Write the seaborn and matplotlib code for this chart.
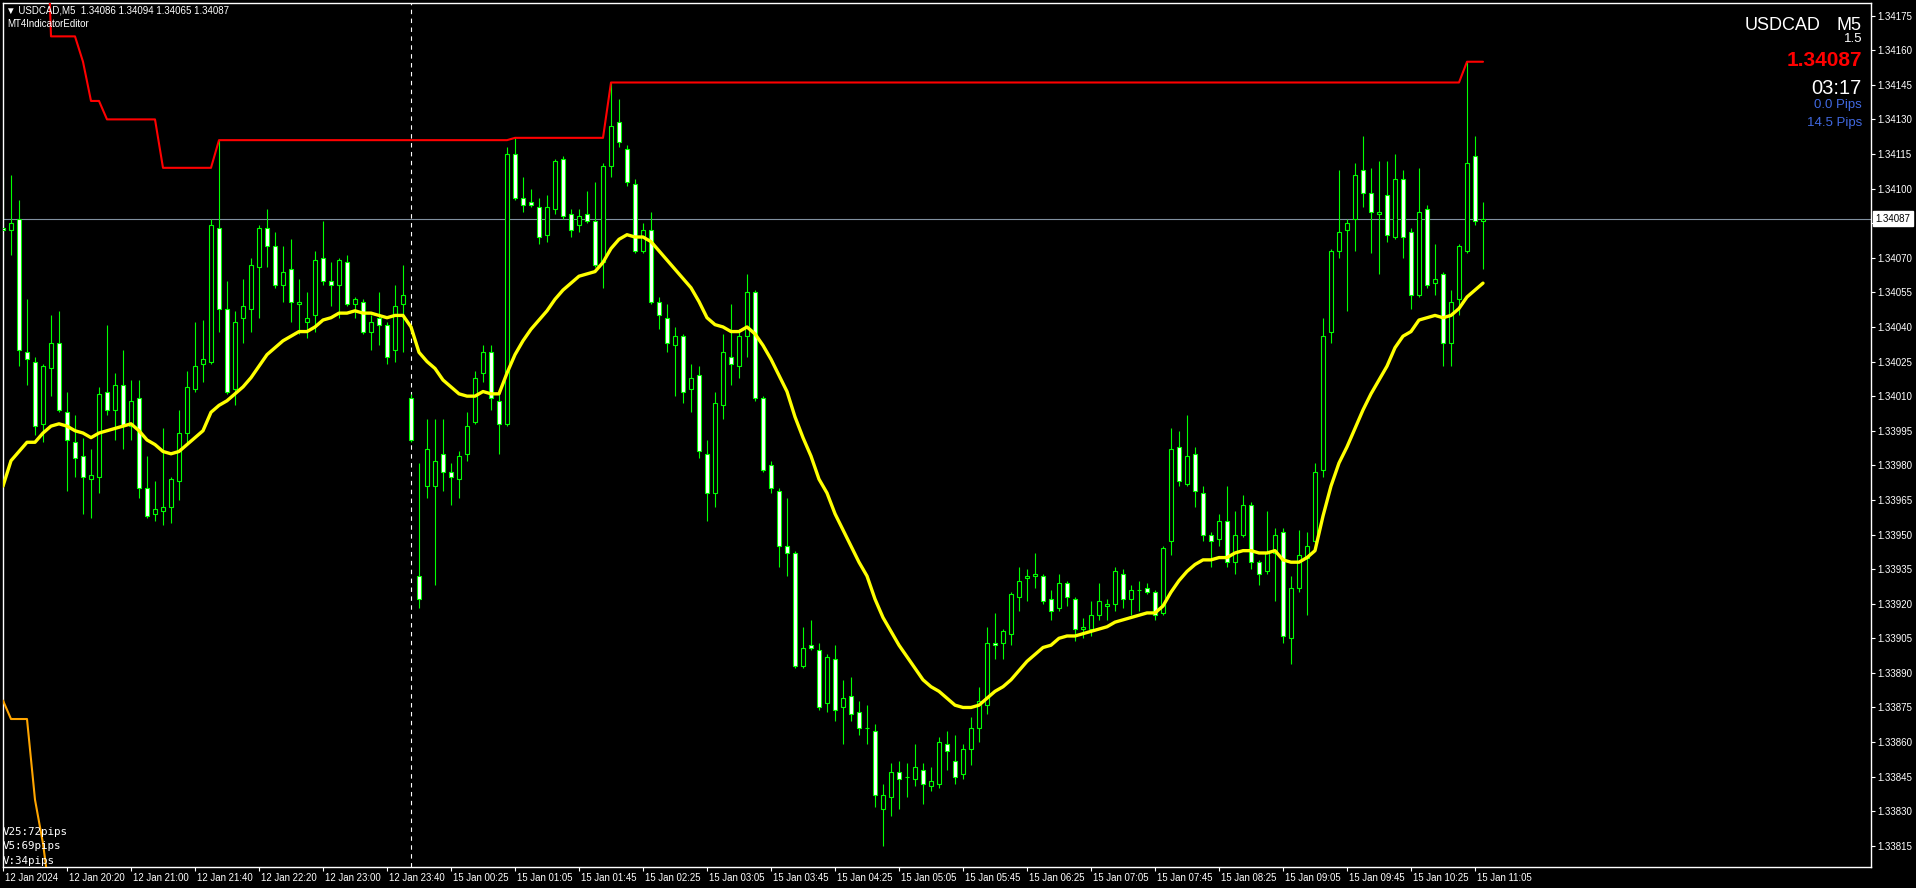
import numpy as np
import pandas as pd
import matplotlib
matplotlib.use("Agg")
import matplotlib.pyplot as plt
import matplotlib.transforms as mtransforms
import seaborn as sns

# USDCAD M5, bar 0 = 12 Jan 19:40, last bar = 15 Jan 11:05
opens = [1.34083, 1.34082, 1.34087, 1.34029, 1.34025, 1.33998, 1.34022, 1.34033, 1.34003, 1.33990,
         1.33984, 1.33974, 1.33975, 1.34012, 1.34004, 1.34015, 1.33997, 1.34009, 1.33970, 1.33959,
         1.33960, 1.33962, 1.33973, 1.33994, 1.34013, 1.34024, 1.34025, 1.34083, 1.34048, 1.34013,
         1.34044, 1.34048, 1.34066, 1.34083, 1.34075, 1.34058, 1.34065, 1.34050, 1.34042, 1.34045,
         1.34070, 1.34060, 1.34058, 1.34068, 1.34050, 1.34051, 1.34038, 1.34044, 1.34041, 1.34030,
         1.34050, 1.34009, 1.33932, 1.33971, 1.33971, 1.33985, 1.33977, 1.33974, 1.33985, 1.33999,
         1.34020, 1.34029, 1.34008, 1.33998, 1.34115, 1.34096, 1.34094, 1.34092, 1.34080, 1.34091,
         1.34113, 1.34089, 1.34084, 1.34089, 1.34086, 1.34068, 1.34110, 1.34129, 1.34117, 1.34102,
         1.34073, 1.34082, 1.34051, 1.34044, 1.34032, 1.34036, 1.34013, 1.34019, 1.33985, 1.33968,
         1.34006, 1.34027, 1.34023, 1.34036, 1.34055, 1.34009, 1.33980, 1.33969, 1.33945, 1.33942,
         1.33893, 1.33902, 1.33900, 1.33877, 1.33896, 1.33875, 1.33880, 1.33873, 1.33866, 1.33865,
         1.33831, 1.33836, 1.33847, 1.33845, 1.33844, 1.33848, 1.33841, 1.33842, 1.33859, 1.33852,
         1.33846, 1.33857, 1.33866, 1.33876, 1.33903, 1.33903, 1.33907, 1.33923, 1.33931, 1.33932,
         1.33932, 1.33922, 1.33918, 1.33929, 1.33922, 1.33909, 1.33909, 1.33915, 1.33919, 1.33920,
         1.33933, 1.33922, 1.33926, 1.33927, 1.33925, 1.33916, 1.33947, 1.33988, 1.33972, 1.33985,
         1.33968, 1.33950, 1.33948, 1.33956, 1.33938, 1.33950, 1.33963, 1.33938, 1.33934, 1.33942,
         1.33951, 1.33905, 1.33927, 1.33940, 1.33947, 1.33978, 1.34038, 1.34073, 1.34082, 1.34087,
         1.34108, 1.34098, 1.34089, 1.34097, 1.34079, 1.34104, 1.34081, 1.34054, 1.34091, 1.34059,
         1.34063, 1.34033, 1.34052, 1.34073, 1.34114, 1.34086]
highs = [1.34105, 1.34106, 1.34095, 1.34052, 1.34027, 1.34024, 1.34045, 1.34047, 1.34012, 1.34002,
         1.33992, 1.33987, 1.34014, 1.34041, 1.34020, 1.34030, 1.34017, 1.34017, 1.33984, 1.33973,
         1.33996, 1.33975, 1.34004, 1.34021, 1.34042, 1.34043, 1.34087, 1.34121, 1.34060, 1.34047,
         1.34061, 1.34070, 1.34084, 1.34091, 1.34081, 1.34075, 1.34078, 1.34061, 1.34055, 1.34073,
         1.34086, 1.34068, 1.34070, 1.34071, 1.34053, 1.34052, 1.34045, 1.34055, 1.34042, 1.34058,
         1.34067, 1.34011, 1.33981, 1.34000, 1.34000, 1.34000, 1.33981, 1.33986, 1.34003, 1.34021,
         1.34032, 1.34032, 1.34013, 1.34118, 1.34122, 1.34105, 1.34100, 1.34096, 1.34097, 1.34113,
         1.34114, 1.34091, 1.34091, 1.34099, 1.34103, 1.34111, 1.34146, 1.34139, 1.34119, 1.34104,
         1.34085, 1.34090, 1.34053, 1.34050, 1.34040, 1.34037, 1.34024, 1.34023, 1.33991, 1.34012,
         1.34037, 1.34050, 1.34039, 1.34063, 1.34056, 1.34010, 1.33982, 1.33970, 1.33966, 1.33943,
         1.33910, 1.33913, 1.33903, 1.33898, 1.33902, 1.33887, 1.33888, 1.33878, 1.33876, 1.33868,
         1.33842, 1.33851, 1.33852, 1.33851, 1.33859, 1.33851, 1.33849, 1.33862, 1.33865, 1.33863,
         1.33859, 1.33871, 1.33884, 1.33910, 1.33916, 1.33909, 1.33925, 1.33936, 1.33935, 1.33942,
         1.33933, 1.33926, 1.33933, 1.33930, 1.33923, 1.33914, 1.33921, 1.33929, 1.33922, 1.33936,
         1.33935, 1.33928, 1.33930, 1.33929, 1.33926, 1.33945, 1.33996, 1.33995, 1.34002, 1.33988,
         1.33971, 1.33951, 1.33959, 1.33971, 1.33960, 1.33967, 1.33964, 1.33939, 1.33960, 1.33953,
         1.33953, 1.33932, 1.33952, 1.33951, 1.33981, 1.34044, 1.34074, 1.34108, 1.34087, 1.34111,
         1.34123, 1.34109, 1.34112, 1.34112, 1.34115, 1.34108, 1.34083, 1.34109, 1.34093, 1.34076,
         1.34064, 1.34056, 1.34076, 1.34155, 1.34123, 1.34094]
lows = [1.34069, 1.34071, 1.34023, 1.34015, 1.33993, 1.33990, 1.34010, 1.34003, 1.33969, 1.33975,
        1.33959, 1.33957, 1.33968, 1.34002, 1.33991, 1.33987, 1.33991, 1.33966, 1.33957, 1.33956,
        1.33954, 1.33955, 1.33965, 1.33989, 1.34012, 1.34016, 1.34024, 1.34038, 1.34011, 1.34006,
        1.34033, 1.34038, 1.34044, 1.34066, 1.34057, 1.34051, 1.34042, 1.34037, 1.34035, 1.34038,
        1.34058, 1.34049, 1.34044, 1.34049, 1.34044, 1.34037, 1.34030, 1.34032, 1.34024, 1.34025,
        1.34029, 1.33990, 1.33918, 1.33966, 1.33928, 1.33969, 1.33963, 1.33966, 1.33982, 1.33998,
        1.34016, 1.34004, 1.33985, 1.33997, 1.34095, 1.34090, 1.34092, 1.34076, 1.34077, 1.34089,
        1.34087, 1.34079, 1.34081, 1.34085, 1.34066, 1.34057, 1.34105, 1.34118, 1.34101, 1.34072,
        1.34072, 1.34050, 1.34039, 1.34029, 1.34010, 1.34007, 1.34003, 1.33983, 1.33956, 1.33962,
        1.34000, 1.34015, 1.34018, 1.34027, 1.34008, 1.33977, 1.33968, 1.33936, 1.33932, 1.33892,
        1.33892, 1.33900, 1.33874, 1.33873, 1.33869, 1.33859, 1.33869, 1.33863, 1.33859, 1.33832,
        1.33815, 1.33828, 1.33831, 1.33836, 1.33841, 1.33833, 1.33839, 1.33840, 1.33848, 1.33842,
        1.33844, 1.33850, 1.33860, 1.33872, 1.33896, 1.33896, 1.33902, 1.33917, 1.33921, 1.33927,
        1.33920, 1.33913, 1.33917, 1.33919, 1.33904, 1.33905, 1.33906, 1.33913, 1.33913, 1.33917,
        1.33918, 1.33915, 1.33917, 1.33924, 1.33913, 1.33915, 1.33941, 1.33971, 1.33971, 1.33962,
        1.33947, 1.33936, 1.33945, 1.33936, 1.33933, 1.33949, 1.33935, 1.33928, 1.33933, 1.33921,
        1.33903, 1.33894, 1.33925, 1.33915, 1.33946, 1.33975, 1.34033, 1.34070, 1.34047, 1.34073,
        1.34092, 1.34072, 1.34063, 1.34077, 1.34078, 1.34070, 1.34048, 1.34053, 1.34057, 1.34054,
        1.34023, 1.34023, 1.34045, 1.34072, 1.34084, 1.34065]
closes = [1.34082, 1.34085, 1.34030, 1.34026, 1.33997, 1.34023, 1.34033, 1.34004, 1.33991, 1.33983,
          1.33975, 1.33976, 1.34011, 1.34004, 1.34015, 1.33997, 1.34008, 1.33970, 1.33958, 1.33961,
          1.33962, 1.33974, 1.33994, 1.34014, 1.34023, 1.34026, 1.34084, 1.34048, 1.34012, 1.34042,
          1.34049, 1.34067, 1.34083, 1.34075, 1.34058, 1.34064, 1.34051, 1.34051, 1.34044, 1.34069,
          1.34060, 1.34058, 1.34069, 1.34050, 1.34052, 1.34038, 1.34042, 1.34041, 1.34027, 1.34049,
          1.34054, 1.33991, 1.33922, 1.33987, 1.33982, 1.33977, 1.33975, 1.33984, 1.33997, 1.34018,
          1.34029, 1.34009, 1.33998, 1.34115, 1.34096, 1.34093, 1.34093, 1.34079, 1.34092, 1.34112,
          1.34088, 1.34082, 1.34088, 1.34086, 1.34067, 1.34110, 1.34127, 1.34120, 1.34103, 1.34073,
          1.34082, 1.34051, 1.34045, 1.34033, 1.34036, 1.34012, 1.34018, 1.33986, 1.33968, 1.34007,
          1.34029, 1.34024, 1.34036, 1.34055, 1.34009, 1.33978, 1.33970, 1.33945, 1.33942, 1.33893,
          1.33901, 1.33901, 1.33875, 1.33897, 1.33874, 1.33879, 1.33872, 1.33866, 1.33866, 1.33837,
          1.33837, 1.33847, 1.33844, 1.33845, 1.33849, 1.33842, 1.33843, 1.33860, 1.33856, 1.33845,
          1.33857, 1.33866, 1.33878, 1.33903, 1.33902, 1.33908, 1.33924, 1.33930, 1.33932, 1.33933,
          1.33921, 1.33917, 1.33929, 1.33923, 1.33909, 1.33910, 1.33915, 1.33921, 1.33920, 1.33934,
          1.33922, 1.33926, 1.33926, 1.33925, 1.33915, 1.33944, 1.33987, 1.33973, 1.33984, 1.33969,
          1.33950, 1.33947, 1.33956, 1.33938, 1.33950, 1.33963, 1.33938, 1.33933, 1.33942, 1.33950,
          1.33906, 1.33927, 1.33941, 1.33945, 1.33977, 1.34036, 1.34073, 1.34081, 1.34085, 1.34106,
          1.34098, 1.34090, 1.34090, 1.34080, 1.34104, 1.34079, 1.34054, 1.34090, 1.34058, 1.34061,
          1.34033, 1.34051, 1.34075, 1.34111, 1.34086, 1.34087]

# yellow moving average
ma = [1.33971, 1.33982, 1.33986, 1.33990, 1.33990, 1.33994, 1.33997, 1.33998, 1.33997, 1.33995,
      1.33994, 1.33992, 1.33994, 1.33995, 1.33996, 1.33997, 1.33998, 1.33995, 1.33991, 1.33989,
      1.33986, 1.33985, 1.33986, 1.33989, 1.33992, 1.33995, 1.34003, 1.34006, 1.34008, 1.34011,
      1.34014, 1.34018, 1.34023, 1.34028, 1.34031, 1.34034, 1.34036, 1.34038, 1.34038, 1.34040,
      1.34043, 1.34044, 1.34046, 1.34046, 1.34047, 1.34046, 1.34046, 1.34045, 1.34044, 1.34045,
      1.34045, 1.34040, 1.34029, 1.34025, 1.34022, 1.34017, 1.34014, 1.34011, 1.34010, 1.34010,
      1.34012, 1.34011, 1.34011, 1.34020, 1.34028, 1.34034, 1.34039, 1.34043, 1.34047, 1.34052,
      1.34056, 1.34059, 1.34062, 1.34063, 1.34064, 1.34068, 1.34074, 1.34078, 1.34080, 1.34079,
      1.34079, 1.34077, 1.34073, 1.34069, 1.34065, 1.34061, 1.34057, 1.34051, 1.34044, 1.34041,
      1.34040, 1.34038, 1.34038, 1.34040, 1.34037, 1.34032, 1.34026, 1.34019, 1.34012, 1.34001,
      1.33992, 1.33984, 1.33974, 1.33968, 1.33959, 1.33952, 1.33945, 1.33938, 1.33932, 1.33922,
      1.33914, 1.33908, 1.33902, 1.33897, 1.33892, 1.33887, 1.33884, 1.33882, 1.33879, 1.33876,
      1.33875, 1.33875, 1.33876, 1.33879, 1.33882, 1.33884, 1.33887, 1.33891, 1.33895, 1.33898,
      1.33901, 1.33902, 1.33905, 1.33906, 1.33906, 1.33907, 1.33908, 1.33909, 1.33910, 1.33912,
      1.33913, 1.33914, 1.33915, 1.33916, 1.33916, 1.33919, 1.33925, 1.33930, 1.33934, 1.33937,
      1.33939, 1.33939, 1.33940, 1.33940, 1.33942, 1.33943, 1.33943, 1.33942, 1.33942, 1.33943,
      1.33939, 1.33938, 1.33938, 1.33940, 1.33943, 1.33958, 1.33971, 1.33981, 1.33988, 1.33996,
      1.34004, 1.34011, 1.34017, 1.34023, 1.34031, 1.34036, 1.34038, 1.34043, 1.34044, 1.34045,
      1.34044, 1.34045, 1.34048, 1.34053, 1.34056, 1.34059]

# red upper channel (first bars are off the top of the chart)
upper = ([np.nan] * 5 + [1.34269] + [1.34166] * 4 + [1.34155] + [1.34138] * 2 + [1.34130] * 7
         + [1.34109] * 7 + [1.34121] * 37 + [1.34122] * 12 + [1.34146] * 107 + [1.34155] * 3)
# orange lower channel, only the first bars reach into view
lower = [1.33878, 1.33870, 1.33870, 1.33870, 1.33835, 1.33816, 1.33790] + [np.nan] * 179

time_ticks = [0, 8, 16, 24, 32, 40, 48, 56, 64, 72, 80, 88, 96, 104, 112, 120, 128, 136, 144,
              152, 160, 168, 176, 184]
time_labels = ["12 Jan 2024", "12 Jan 20:20", "12 Jan 21:00", "12 Jan 21:40", "12 Jan 22:20",
               "12 Jan 23:00", "12 Jan 23:40", "15 Jan 00:25", "15 Jan 01:05", "15 Jan 01:45",
               "15 Jan 02:25", "15 Jan 03:05", "15 Jan 03:45", "15 Jan 04:25", "15 Jan 05:05",
               "15 Jan 05:45", "15 Jan 06:25", "15 Jan 07:05", "15 Jan 07:45", "15 Jan 08:25",
               "15 Jan 09:05", "15 Jan 09:45", "15 Jan 10:25", "15 Jan 11:05"]
price_ticks = [1.33815, 1.33830, 1.33845, 1.33860, 1.33875, 1.33890, 1.33905, 1.33920, 1.33935,
               1.33950, 1.33965, 1.33980, 1.33995, 1.34010, 1.34025, 1.34040, 1.34055, 1.34070,
               1.34085, 1.34100, 1.34115, 1.34130, 1.34145, 1.34160, 1.34175]
day_break = 51
last_price = 1.34087

GREEN = "#00FF00"
FONT = ["Liberation Sans", "DejaVu Sans"]

df = pd.DataFrame({"bar": np.arange(len(opens)), "open": opens, "high": highs,
                   "low": lows, "close": closes, "ma": ma, "upper": upper, "lower": lower})

sns.set_theme(style="dark", rc={"axes.facecolor": "black", "figure.facecolor": "black"})
plt.rcParams["font.family"] = FONT

W, H = 1916, 888
fig = plt.figure(figsize=(W / 100, H / 100), dpi=100)
ax = fig.add_axes([2.7 / W, (H - 866.7) / H, 1868 / W, 864 / H])
ax.set_facecolor("black")

# candles
bull = df["close"] >= df["open"]
body_lo = np.minimum(df["open"], df["close"])
body_h = (df["close"] - df["open"]).abs()
ax.vlines(df["bar"], df["low"], df["high"], color=GREEN, lw=0.8, zorder=2)
ax.bar(df["bar"], body_h, bottom=body_lo, width=0.5,
       color=np.where(bull, "black", "white"), edgecolor=GREEN, linewidth=0.8, zorder=3)

sns.lineplot(data=df, x="bar", y="ma", color="#FFFF00", lw=2.4, estimator=None, ax=ax, zorder=4)
sns.lineplot(data=df, x="bar", y="upper", color="#FF0000", lw=1.5, estimator=None, ax=ax, zorder=4)
sns.lineplot(data=df, x="bar", y="lower", color="#FFA500", lw=1.5, estimator=None, ax=ax, zorder=4)

ax.axhline(last_price, color="#8090A0", lw=0.8, zorder=1)
ax.axvline(day_break, color="white", lw=0.8, ls=(0, (4, 4)), zorder=1)

ax.set_xlim(-0.0375, 233.4625)
ax.set_ylim(1.3380596, 1.341806)
ax.set(xlabel="", ylabel="")

for s in ax.spines.values():
    s.set_color("white")
    s.set_linewidth(1)
    s.set_visible(True)

ax.yaxis.tick_right()
ax.set_yticks(price_ticks)
ax.set_yticklabels([f"{v:.5f}" for v in price_ticks])
ax.set_xticks(time_ticks)
ax.set_xticklabels(time_labels, ha="left")
ax.tick_params(axis="y", right=True, left=False, labelright=True, labelleft=False,
               colors="white", length=3, width=0.8, pad=1.5, labelsize=7)
ax.tick_params(axis="x", bottom=True, colors="white", length=3, width=0.8, pad=1.5, labelsize=6.9)
shift = mtransforms.ScaledTranslation(2 / 100, 0, fig.dpi_scale_trans)
for lbl in ax.get_xticklabels():
    lbl.set_transform(lbl.get_transform() + shift)

# current price box on the price scale
tr = mtransforms.blended_transform_factory(ax.transAxes, ax.transData)
ax.text(1 + 4.5 / 1868, last_price, f"{last_price:.5f}", transform=tr, ha="left", va="center",
        fontsize=7, color="black", clip_on=False, zorder=10,
        bbox=dict(boxstyle="square,pad=0.25", fc="white", ec="white"))


def put(x, y, s, **kw):
    fig.text(x / W, 1 - y / H, s, va="center", **kw)


put(6, 10.7, "\u25bc USDCAD,M5  1.34086 1.34094 1.34065 1.34087", color="white", fontsize=7)
put(7, 24, "MT4IndicatorEditor", color="white", fontsize=7)

put(1821, 26, "USDCAD", color="white", fontsize=13, ha="right")
put(1862, 26, "M5", color="white", fontsize=13, ha="right")
put(1862, 39.5, "1.5", color="white", fontsize=9.5, ha="right")
put(1862, 61, "1.34087", color="#FF0000", fontsize=15, fontweight="bold", ha="right")
put(1862, 88, "03:17", color="white", fontsize=14.5, ha="right")
put(1862, 105, "0.0 Pips", color="#4169E1", fontsize=9.5, ha="right")
put(1862, 123, "14.5 Pips", color="#4169E1", fontsize=9.5, ha="right")

mono = ["DejaVu Sans Mono"]
put(3, 832, "V25:72pips", color="white", fontsize=7.8, family=mono)
put(3, 846, "V5:69pips", color="white", fontsize=7.8, family=mono)
put(3, 861, "V:34pips", color="white", fontsize=7.8, family=mono)

fig.savefig("out.png", dpi=100, facecolor="black")
